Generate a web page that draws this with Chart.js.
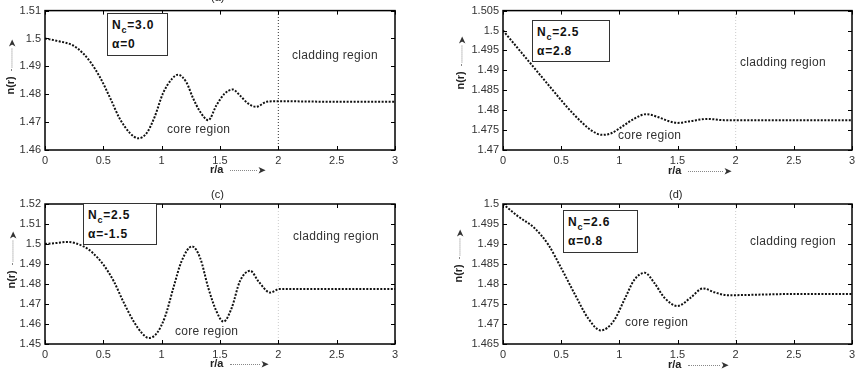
<!DOCTYPE html>
<html lang="en">
<head>
<meta charset="UTF-8" />
<title>Refractive index profiles n(r)</title>
<script src="https://cdn.jsdelivr.net/npm/chart.js"></script>
<style>
  body { margin: 0; background: #fff; font-family: 'Liberation Sans', Arial, sans-serif; }
  #page { position: relative; width: 861px; height: 380px; overflow: hidden; background: #fff; }
  canvas { position: absolute; }
  .lbl { position: absolute; color: #333; font-size: 12px; letter-spacing: 0.3px; white-space: nowrap; line-height: 12px; }
  .ttl { position: absolute; color: #222; font-size: 11px; line-height: 12px; }
  .box {
    position: absolute; border: 1.5px solid #333; background: #fff; color: #111;
    font-weight: bold; font-size: 12px; letter-spacing: 0.8px; line-height: 19px;
    padding: 2px 4px; box-sizing: border-box;
  }
  .box sub { font-size: 9px; vertical-align: -4px; line-height: 0; }
  .ax { position: absolute; font-size: 11px; font-weight: bold; color: #222; white-space: nowrap; line-height: 12px; }
  .ax .dots { display: inline-block; border-top: 1.5px dotted #888; vertical-align: middle; margin: 0 1px 0 3px; }
  .ax .ah { font-size: 9px; color: #333; vertical-align: middle; }
  .ylab { transform: rotate(-90deg); transform-origin: center center; text-align: left; }
</style>
</head>
<body>
<div id="page">
  <canvas id="chartA" width="430" height="185" style="left:0;top:0"></canvas>
  <canvas id="chartB" width="431" height="185" style="left:430px;top:0"></canvas>
  <canvas id="chartC" width="430" height="195" style="left:0;top:185px"></canvas>
  <canvas id="chartD" width="431" height="195" style="left:430px;top:185px"></canvas>

  <!-- panel titles -->
  <div class="ttl" style="left:211px;top:-9px">(a)</div>
  <div class="ttl" style="left:211px;top:188px">(c)</div>
  <div class="ttl" style="left:669px;top:188px">(d)</div>

  <!-- parameter boxes -->
  <div class="box" style="left:107px;top:13px;width:61px;height:43px">N<sub>c</sub>=3.0<br>&alpha;=0</div>
  <div class="box" style="left:532px;top:20px;width:78px;height:42px">N<sub>c</sub>=2.5<br>&alpha;=2.8</div>
  <div class="box" style="left:83px;top:203px;width:74px;height:42px">N<sub>c</sub>=2.5<br>&alpha;=-1.5</div>
  <div class="box" style="left:563px;top:210px;width:75px;height:43px">N<sub>c</sub>=2.6<br>&alpha;=0.8</div>

  <!-- region labels -->
  <div class="lbl" style="left:292px;top:49px">cladding region</div>
  <div class="lbl" style="left:167px;top:123px">core region</div>
  <div class="lbl" style="left:740px;top:56px">cladding region</div>
  <div class="lbl" style="left:618px;top:129px">core region</div>
  <div class="lbl" style="left:293px;top:230px">cladding region</div>
  <div class="lbl" style="left:175px;top:325px">core region</div>
  <div class="lbl" style="left:750px;top:235px">cladding region</div>
  <div class="lbl" style="left:625px;top:316px">core region</div>

  <!-- x axis labels -->
  <div class="ax" style="left:210px;top:163px">r/a <span class="dots" style="width:27px"></span><span class="ah">&#10148;</span></div>
  <div class="ax" style="left:668px;top:164px">r/a <span class="dots" style="width:35px"></span><span class="ah">&#10148;</span></div>
  <div class="ax" style="left:210px;top:357px">r/a <span class="dots" style="width:30px"></span><span class="ah">&#10148;</span></div>
  <div class="ax" style="left:668px;top:358px">r/a <span class="dots" style="width:32px"></span><span class="ah">&#10148;</span></div>

  <!-- y axis labels -->
  <div class="ax ylab" style="left:-18px;top:59px;width:58px">n(r) <span class="dots" style="width:22px"></span><span class="ah">&#10148;</span></div>
  <div class="ax ylab" style="left:432px;top:54px;width:58px">n(r) <span class="dots" style="width:20px"></span><span class="ah">&#10148;</span></div>
  <div class="ax ylab" style="left:-18px;top:252px;width:60px">n(r) <span class="dots" style="width:24px"></span><span class="ah">&#10148;</span></div>
  <div class="ax ylab" style="left:431px;top:248px;width:56px">n(r) <span class="dots" style="width:20px"></span><span class="ah">&#10148;</span></div>
</div>

<script>
  // shared x axis
  const xTicks = [0, 0.5, 1, 1.5, 2, 2.5, 3];
  const coreEdge = 2;

  // (a) Nc=3.0, alpha=0
  const rA = [0, 0.12, 0.24, 0.33, 0.39, 0.47, 0.56, 0.64, 0.73, 0.80, 0.87, 0.94, 1.01, 1.09, 1.14, 1.21, 1.27, 1.33, 1.40, 1.47, 1.54, 1.61, 1.67, 1.74, 1.81, 1.90, 1.99, 2.5, 3.0];
  const nA = [1.5000, 1.4990, 1.4975, 1.4945, 1.4915, 1.4862, 1.4785, 1.4713, 1.4660, 1.4642, 1.4660, 1.4719, 1.4802, 1.4856, 1.4870, 1.4844, 1.4785, 1.4737, 1.4707, 1.4761, 1.4802, 1.4817, 1.4796, 1.4767, 1.4755, 1.4773, 1.4775, 1.4773, 1.4773];
  const yTicksA = [1.46, 1.47, 1.48, 1.49, 1.5, 1.51];

  // (b) Nc=2.5, alpha=2.8
  const rB = [0, 0.12, 0.24, 0.36, 0.46, 0.55, 0.62, 0.69, 0.76, 0.85, 0.93, 1.02, 1.13, 1.23, 1.33, 1.42, 1.50, 1.62, 1.76, 1.90, 2.5, 3.0];
  const nB = [1.5000, 1.4958, 1.4916, 1.4874, 1.4839, 1.4808, 1.4786, 1.4766, 1.4749, 1.4738, 1.4742, 1.4758, 1.4779, 1.4790, 1.4783, 1.4773, 1.4768, 1.4773, 1.4778, 1.4775, 1.4775, 1.4775];
  const yTicksB = [1.47, 1.475, 1.48, 1.485, 1.49, 1.495, 1.5, 1.505];

  // (c) Nc=2.5, alpha=-1.5
  const rC = [0, 0.10, 0.19, 0.33, 0.41, 0.50, 0.59, 0.67, 0.76, 0.83, 0.89, 0.96, 1.03, 1.10, 1.17, 1.26, 1.33, 1.40, 1.47, 1.53, 1.60, 1.67, 1.76, 1.83, 1.93, 2.01, 2.5, 3.0];
  const nC = [1.5000, 1.5005, 1.5010, 1.4988, 1.4955, 1.4897, 1.4813, 1.4713, 1.4613, 1.4555, 1.4530, 1.4555, 1.4638, 1.4780, 1.4913, 1.4988, 1.4930, 1.4780, 1.4663, 1.4612, 1.4680, 1.4813, 1.4866, 1.4813, 1.4757, 1.4775, 1.4775, 1.4775];
  const yTicksC = [1.45, 1.46, 1.47, 1.48, 1.49, 1.5, 1.51, 1.52];

  // (d) Nc=2.6, alpha=0.8
  const rD = [0, 0.13, 0.27, 0.39, 0.50, 0.62, 0.73, 0.84, 0.95, 1.05, 1.13, 1.22, 1.30, 1.39, 1.50, 1.61, 1.72, 1.82, 1.93, 2.5, 3.0];
  const nD = [1.5000, 1.4969, 1.4940, 1.4898, 1.4840, 1.4773, 1.4715, 1.4684, 1.4707, 1.4765, 1.4811, 1.4828, 1.4803, 1.4765, 1.4745, 1.4765, 1.4789, 1.4779, 1.4772, 1.4775, 1.4775];
  const yTicksD = [1.465, 1.47, 1.475, 1.48, 1.485, 1.49, 1.495, 1.5];

  // box around the plot + inward tick marks, matlab style
  const boxPlugin = {
    id: 'boxPlugin',
    afterDraw(chart) {
      const { ctx, chartArea: a, scales } = chart;
      ctx.save();
      ctx.strokeStyle = '#000';
      ctx.lineWidth = 1;
      ctx.beginPath();
      scales.x.ticks.forEach(t => {
        const px = Math.round(scales.x.getPixelForValue(t.value)) + 0.5;
        ctx.moveTo(px, a.bottom); ctx.lineTo(px, a.bottom - 4);
        ctx.moveTo(px, a.top); ctx.lineTo(px, a.top + 4);
      });
      scales.y.ticks.forEach(t => {
        const py = Math.round(scales.y.getPixelForValue(t.value)) + 0.5;
        ctx.moveTo(a.left, py); ctx.lineTo(a.left + 4, py);
        ctx.moveTo(a.right, py); ctx.lineTo(a.right - 4, py);
      });
      ctx.stroke();
      ctx.lineWidth = 1.5;
      ctx.strokeRect(a.left, a.top, a.right - a.left, a.bottom - a.top);
      ctx.restore();
    }
  };

  function makePanel(id, r, n, yTicks, pad, yWidth, xHeight, edgeColor) {
    const yMin = yTicks[0], yMax = yTicks[yTicks.length - 1];
    return new Chart(document.getElementById(id), {
      type: 'line',
      data: {
        datasets: [
          {
            data: r.map((v, i) => ({ x: v, y: n[i] })),
            borderColor: '#111',
            borderWidth: 2,
            borderDash: [2, 1.5],
            pointRadius: 0,
            cubicInterpolationMode: 'monotone'
          },
          {
            data: [{ x: coreEdge, y: yMin }, { x: coreEdge, y: yMax }],
            borderColor: edgeColor,
            borderWidth: 1,
            borderDash: [1, 2],
            pointRadius: 0
          }
        ]
      },
      options: {
        responsive: false,
        animation: false,
        layout: { padding: pad },
        plugins: { legend: { display: false }, tooltip: { enabled: false } },
        scales: {
          x: {
            type: 'linear', min: 0, max: 3,
            afterBuildTicks: s => { s.ticks = xTicks.map(v => ({ value: v })); },
            afterFit: s => { s.height = xHeight; },
            grid: { display: false, drawTicks: false },
            border: { display: false },
            ticks: { color: '#333', font: { size: 11 }, padding: 4, maxRotation: 0, autoSkip: false, callback: v => String(v) }
          },
          y: {
            min: yMin, max: yMax,
            afterBuildTicks: s => { s.ticks = yTicks.map(v => ({ value: v })); },
            afterFit: s => { s.width = yWidth; },
            grid: { display: false, drawTicks: false },
            border: { display: false },
            ticks: { color: '#333', font: { size: 11 }, padding: 4, autoSkip: false, callback: v => String(+v.toFixed(3)) }
          }
        }
      },
      plugins: [boxPlugin]
    });
  }

  makePanel('chartA', rA, nA, yTicksA, { left: 0, top: 10, right: 35, bottom: 0 }, 45, 35, '#333');
  makePanel('chartB', rB, nB, yTicksB, { left: 0, top: 10, right: 9, bottom: 0 }, 73, 35, '#ccc');
  makePanel('chartC', rC, nC, yTicksC, { left: 0, top: 19, right: 35, bottom: 0 }, 45, 36, '#ccc');
  makePanel('chartD', rD, nD, yTicksD, { left: 0, top: 19, right: 9, bottom: 0 }, 73, 36, '#ccc');
</script>
</body>
</html>
